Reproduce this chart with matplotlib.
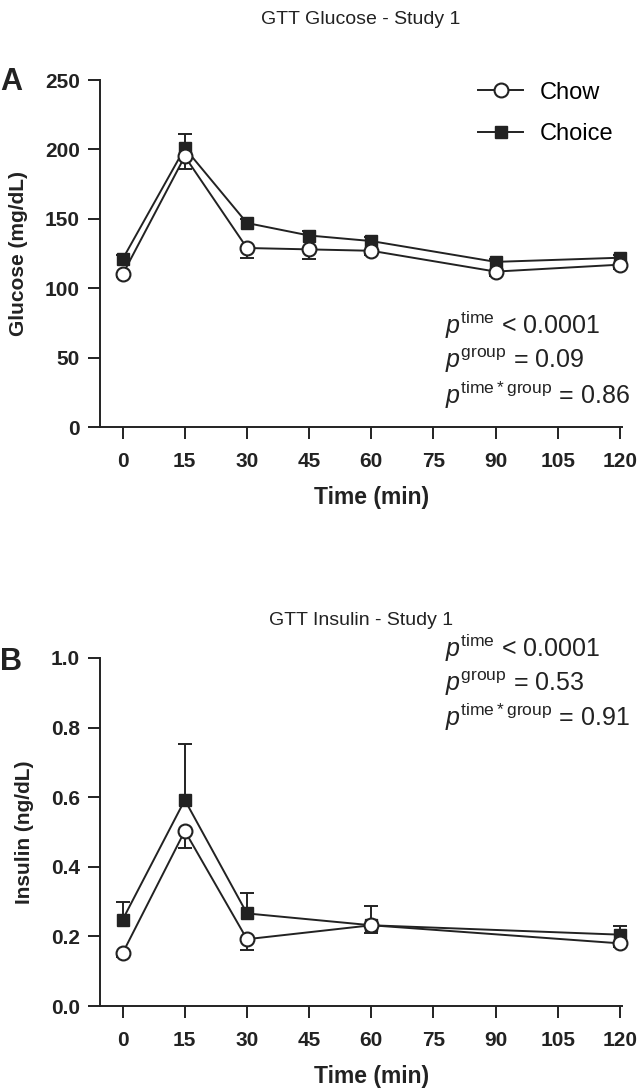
import matplotlib
matplotlib.use("Agg")
import matplotlib.pyplot as plt

plt.rcParams['font.family'] = ['Liberation Sans', 'DejaVu Sans']
plt.rcParams['mathtext.fontset'] = 'custom'
plt.rcParams['mathtext.rm'] = 'Liberation Sans'
plt.rcParams['mathtext.it'] = 'Liberation Sans:italic'

# Glucose data
g_time = [0, 15, 30, 45, 60, 90, 120]
g_chow = [110, 195, 129, 128, 127, 112, 117]
g_chow_err = [2, 9, 7, 7, 3, 3, 3]
g_choice = [121, 201, 147, 138, 134, 119, 122]
g_choice_err = [3, 10, 3, 3, 3, 2, 2]

# Insulin data
i_time = [0, 15, 30, 60, 120]
i_chow = [0.152, 0.503, 0.192, 0.232, 0.180]
i_chow_err = [0.01, 0.048, 0.032, 0.022, 0.01]
i_choice = [0.248, 0.592, 0.266, 0.232, 0.205]
i_choice_err = [0.052, 0.162, 0.058, 0.056, 0.025]

xticks = [0, 15, 30, 45, 60, 75, 90, 105, 120]

INK = '#222222'
XMIN, XMAX = -5.5, 120.5
fig = plt.figure(figsize=(6.4, 10.91), dpi=100)
ax1 = fig.add_axes([0.156, 0.6086, 0.816, 0.318])
ax2 = fig.add_axes([0.156, 0.0779, 0.816, 0.319])

def draw(ax, t, chow, chow_err, choice, choice_err):
    lw = 1.4
    # one-sided error bars: Choice upward, Chow downward
    top = [v + e for v, e in zip(choice, choice_err)]
    ax.vlines(t, choice, top, color=INK, lw=lw, zorder=2, clip_on=False)
    ax.plot(t, top, ls='none', marker='_', ms=10, mew=lw, color=INK, zorder=2, clip_on=False)
    bot = [v - e for v, e in zip(chow, chow_err)]
    ax.vlines(t, bot, chow, color=INK, lw=lw, zorder=2, clip_on=False)
    ax.plot(t, bot, ls='none', marker='_', ms=10, mew=lw, color=INK, zorder=2, clip_on=False)
    ax.plot(t, choice, color=INK, lw=lw, marker='s', ms=8.5,
            mfc=INK, mec=INK, label='Choice', zorder=3, clip_on=False)
    ax.plot(t, chow, color=INK, lw=lw, marker='o', ms=10,
            mfc='white', mec=INK, mew=1.5, label='Chow', zorder=4, clip_on=False)
    ax.spines['top'].set_visible(False)
    ax.spines['right'].set_visible(False)
    for s in ('left', 'bottom'):
        ax.spines[s].set_linewidth(1.4)
        ax.spines[s].set_color(INK)
    ax.set_xlim(XMIN, XMAX)
    ax.set_xticks(xticks)
    ax.tick_params(direction='out', length=8.5, width=1.4, color=INK,
                   labelsize=15, labelcolor=INK)
    ax.tick_params(axis='x', pad=9.5)
    ax.tick_params(axis='y', pad=6)
    xc = (60 - XMIN) / (XMAX - XMIN)
    ax.set_xlabel('Time (min)', fontsize=16.5, fontweight='bold', color=INK,
                  labelpad=11, x=xc)

def bold_ticks(ax):
    for lab in ax.get_xticklabels() + ax.get_yticklabels():
        lab.set_fontweight('bold')

draw(ax1, g_time, g_chow, g_chow_err, g_choice, g_choice_err)
ax1.set_ylim(0, 250)
ax1.set_yticks([0, 50, 100, 150, 200, 250])
bold_ticks(ax1)
ax1.set_ylabel('Glucose (mg/dL)', fontsize=15, fontweight='bold', color=INK, labelpad=12)
ax1.set_title('GTT Glucose - Study 1', fontsize=14, color=INK, pad=40.5)
h, l = ax1.get_legend_handles_labels()
ax1.legend(h[::-1], l[::-1], loc='upper right', bbox_to_anchor=(1.024, 1.057), frameon=False,
           fontsize=17, handlelength=1.9, labelspacing=0.83, handletextpad=0.7)

draw(ax2, i_time, i_chow, i_chow_err, i_choice, i_choice_err)
ax2.set_ylim(0, 1.0)
ax2.set_yticks([0.0, 0.2, 0.4, 0.6, 0.8, 1.0])
ax2.set_yticklabels(['0.0', '0.2', '0.4', '0.6', '0.8', '1.0'])
bold_ticks(ax2)
ax2.set_ylabel('Insulin (ng/dL)', fontsize=15, fontweight='bold', color=INK, labelpad=12)
ax2.set_title('GTT Insulin - Study 1', fontsize=14, color=INK, pad=23.7)

# p-value annotations
tx = 445 / 640
for y, s in [(325, r'$p^{\mathrm{time}}$ < 0.0001'), (361, r'$p^{\mathrm{group}}$ = 0.09'),
             (395, r'$p^{\mathrm{time*group}}$ = 0.86')]:
    fig.text(tx, 1 - y / 1091, s, fontsize=18, color=INK, va='center', ha='left')
for y, s in [(648, r'$p^{\mathrm{time}}$ < 0.0001'), (684, r'$p^{\mathrm{group}}$ = 0.53'),
             (717, r'$p^{\mathrm{time*group}}$ = 0.91')]:
    fig.text(tx, 1 - y / 1091, s, fontsize=18, color=INK, va='center', ha='left')

fig.text(0 / 640, 1 - 82 / 1091, 'A', fontsize=22, fontweight='bold', color=INK, va='center')
fig.text(0 / 640, 1 - 662 / 1091, 'B', fontsize=22, fontweight='bold', color=INK, va='center')

fig.savefig('out.png', dpi=100)
